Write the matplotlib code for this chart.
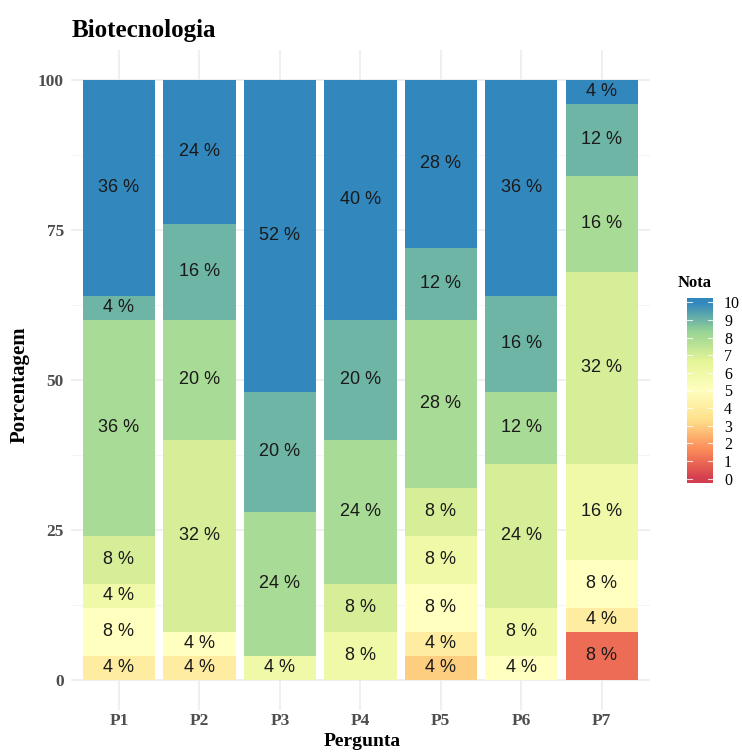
import numpy as np
import matplotlib.pyplot as plt
from matplotlib.colors import LinearSegmentedColormap

# data: per question, the grades present (bottom -> top) and their share in %
perguntas = ["P1", "P2", "P3", "P4", "P5", "P6", "P7"]
notas_p1 = [4, 5, 6, 7, 8, 9, 10]
pct_p1 = [4, 8, 4, 8, 36, 4, 36]
notas_p2 = [4, 5, 7, 8, 9, 10]
pct_p2 = [4, 4, 32, 20, 16, 24]
notas_p3 = [6, 8, 9, 10]
pct_p3 = [4, 24, 20, 52]
notas_p4 = [6, 7, 8, 9, 10]
pct_p4 = [8, 8, 24, 20, 40]
notas_p5 = [3, 4, 5, 6, 7, 8, 9, 10]
pct_p5 = [4, 4, 8, 8, 8, 28, 12, 28]
notas_p6 = [5, 6, 7, 8, 9, 10]
pct_p6 = [4, 8, 24, 12, 16, 36]
notas_p7 = [1, 4, 5, 6, 7, 8, 9, 10]
pct_p7 = [8, 4, 8, 16, 32, 16, 12, 4]

notas = [notas_p1, notas_p2, notas_p3, notas_p4, notas_p5, notas_p6, notas_p7]
pcts = [pct_p1, pct_p2, pct_p3, pct_p4, pct_p5, pct_p6, pct_p7]
ticks_y = [0, 25, 50, 75, 100]
ticks_nota = list(range(0, 11))

# Spectral palette (7 colours) like scale_fill_distiller
spectral = ["#D53E4F", "#FC8D59", "#FEE08B", "#FFFFBF", "#E6F598", "#99D594", "#3288BD"]
cmap = LinearSegmentedColormap.from_list("spec", spectral)

W, H = 742, 753
fig = plt.figure(figsize=(W / 100, H / 100), dpi=100)
serif = "Liberation Serif"
sans = "Liberation Sans"

# main panel (pixel box converted to figure fractions)
left, right, top, bottom = 70.7, 650, 50, 710
ax = fig.add_axes([left / W, 1 - bottom / H, (right - left) / W, (bottom - top) / H])
ax.set_xlim(0.4, len(perguntas) + 0.6)
ax.set_ylim(-5, 105)

x = np.arange(1, len(perguntas) + 1)
for xi, ns, ps in zip(x, notas, pcts):
    base = 0
    for n, p in zip(ns, ps):
        ax.bar(xi, p, bottom=base, width=0.9, color=cmap(n / 10), linewidth=0, zorder=2)
        ax.text(xi, base + p / 2, f"{p} %", ha="center", va="center",
                fontsize=13, family=sans, color="#1a1a1a", zorder=3)
        base += p

# grid like theme_minimal
for yv in ticks_y:
    ax.axhline(yv, color="#EBEBEB", lw=1.1, zorder=0)
for yv in [12.5, 37.5, 62.5, 87.5]:
    ax.axhline(yv, color="#F2F2F2", lw=0.6, zorder=0)
for xi in x:
    ax.axvline(xi, color="#EBEBEB", lw=1.1, zorder=0)

ax.set_xticks(x)
ax.set_xticklabels(perguntas)
ax.set_yticks(ticks_y)
ax.tick_params(axis="y", length=0, pad=5)
ax.tick_params(axis="x", length=0, pad=2)
for lab in ax.get_xticklabels() + ax.get_yticklabels():
    lab.set_family(serif)
    lab.set_fontweight("bold")
    lab.set_fontsize(12.5)
    lab.set_color("#4D4D4D")
for s in ax.spines.values():
    s.set_visible(False)

fig.text(362 / W, 1 - 742 / H, "Pergunta", family=serif, fontweight="bold",
         fontsize=14, ha="center", va="center")
fig.text(20 / W, 1 - 385 / H, "Porcentagem", family=serif, fontweight="bold",
         fontsize=15, ha="center", va="center", rotation=90)
fig.text(72 / W, 1 - 30 / H, "Biotecnologia", family=serif, fontweight="bold",
         fontsize=18, ha="left", va="center")

# colour bar legend
cb_l, cb_r, cb_t, cb_b = 687, 713, 298, 483
cax = fig.add_axes([cb_l / W, 1 - cb_b / H, (cb_r - cb_l) / W, (cb_b - cb_t) / H])
grad = np.linspace(-0.25, 10.25, 400)[:, None]
cax.imshow(np.clip(grad, 0, 10), cmap=cmap, vmin=0, vmax=10, origin="lower",
           extent=[0, 1, -0.25, 10.25], aspect="auto", interpolation="bilinear")
cax.set_xlim(0, 1)
cax.set_ylim(-0.25, 10.25)
for t in ticks_nota:
    cax.plot([0, 0.2], [t, t], color="white", lw=0.8, alpha=0.8)
    cax.plot([0.8, 1], [t, t], color="white", lw=0.8, alpha=0.8)
cax.set_xticks([])
cax.yaxis.tick_right()
cax.set_yticks(ticks_nota)
cax.tick_params(length=0, pad=8)
for lab in cax.get_yticklabels():
    lab.set_family(serif)
    lab.set_fontsize(11.5)
for s in cax.spines.values():
    s.set_visible(False)
fig.text(678 / W, 1 - 283 / H, "Nota", family=serif, fontweight="bold",
         fontsize=12, ha="left", va="center")

fig.savefig("out.png", dpi=100, facecolor="white")
